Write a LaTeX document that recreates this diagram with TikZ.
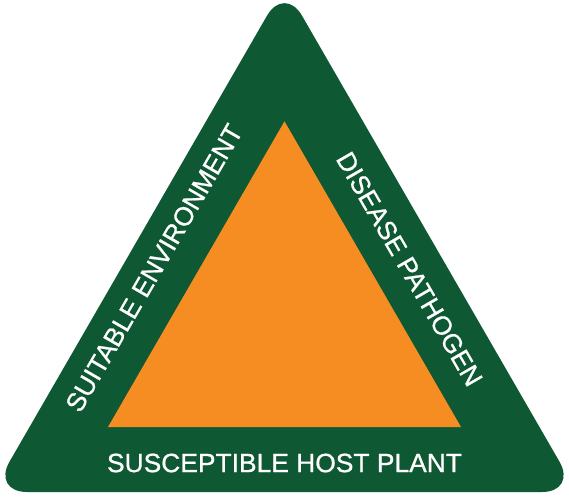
\documentclass[tikz,border=0pt]{standalone}
\usepackage{fontspec}
\setmainfont{Liberation Sans}
\newfontfamily\lblfont[FakeBold=0.8]{Liberation Sans}
\definecolor{tgreen}{RGB}{14,88,51}
\definecolor{torange}{RGB}{246,141,35}
\begin{document}
\begin{tikzpicture}[x=1pt,y=-1pt,
  lbl/.style={text=white,inner sep=0pt,font=\lblfont\fontsize{26.3}{26.5}\selectfont}]
\useasboundingbox (0,0) rectangle (569,499);
\fill[tgreen, rounded corners=35pt] (-8,492) -- (284.5,-14.6) -- (577,492) -- cycle;
\fill[torange] (108,427) -- (461,427) -- (284.5,121.3) -- cycle;
\node[lbl,rotate=60] (env) at (154,268) {SUITABLE ENVIRONMENT};
\node[lbl,rotate=-60] (path) at (409.5,269) {DISEASE PATHOGEN};
\node[lbl,font=\lblfont\fontsize{26.4}{26.5}\selectfont] (host) at (284.5,463) {SUSCEPTIBLE HOST PLANT};
\end{tikzpicture}
\end{document}
